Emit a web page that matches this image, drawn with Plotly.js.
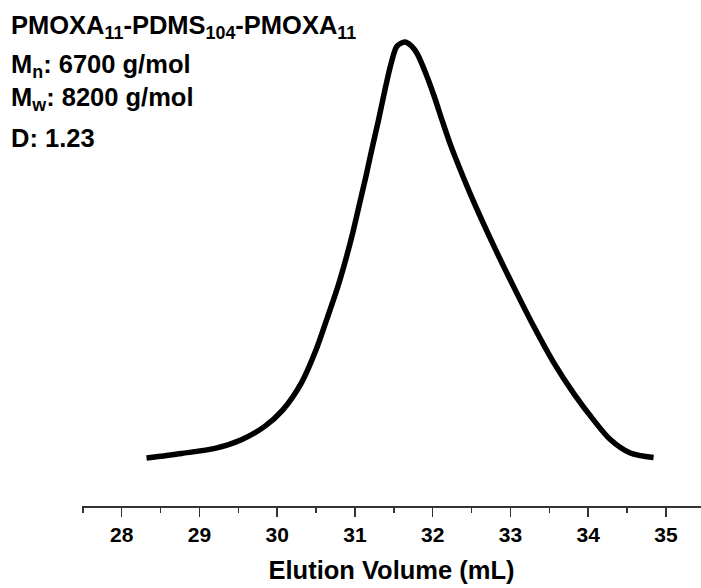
<!DOCTYPE html>
<html>
<head>
<meta charset="utf-8">
<script src="https://cdn.plot.ly/plotly-3.0.1.min.js"></script>
<style>html,body{margin:0;padding:0;background:#fff;}#chart{width:701px;height:588px;}</style>
</head>
<body>
<div id="chart"></div>
<script>
// Elution volume (mL) and normalized detector response
const elutionVolume = [28.32, 28.77, 29.2, 29.54, 29.84, 30.07, 30.31, 30.50, 30.65, 30.78, 30.88, 30.97, 31.06, 31.14, 31.21, 31.30, 31.38, 31.46, 31.54, 31.64, 31.73, 31.80, 31.91, 32.02, 32.12, 32.23, 32.40, 32.55, 32.79, 33.04, 33.30, 33.56, 33.81, 34.07, 34.28, 34.54, 34.84];
const response = [0, 0.011, 0.023, 0.044, 0.076, 0.115, 0.18, 0.26, 0.34, 0.412, 0.476, 0.54, 0.612, 0.676, 0.736, 0.81, 0.88, 0.945, 0.99, 1.0, 0.99, 0.972, 0.925, 0.869, 0.812, 0.752, 0.672, 0.606, 0.508, 0.412, 0.316, 0.228, 0.156, 0.091, 0.045, 0.012, 0.001];
const tickValues = [28, 29, 30, 31, 32, 33, 34, 35];
const infoLines = [
  "PMOXA<sub>11</sub>-PDMS<sub>104</sub>-PMOXA<sub>11</sub>",
  "M<sub>n</sub>: 6700 g/mol",
  "M<sub>w</sub>: 8200 g/mol",
  "D: 1.23"
];
const xTitle = "Elution Volume (mL)";

const W = 701, H = 588;
const mL = 82, mR = 0, mT = 20, mB = 82;
const plotW = W - mL - mR, plotH = H - mT - mB;
const lineCenters = [27, 65.5, 99.5, 137.5];

const FONT = "Liberation Sans, Arial, sans-serif";

const annotations = infoLines.map((t, i) => ({
  text: t,
  xref: 'paper', yref: 'paper',
  x: (9 - mL) / plotW,
  y: (H - mB - lineCenters[i]) / plotH,
  xanchor: 'left', yanchor: 'middle',
  showarrow: false,
  font: {family: FONT, size: 25.5, color: '#000', weight: 'bold'}
}));

const trace = {
  x: elutionVolume, y: response,
  type: 'scatter', mode: 'lines',
  line: {color: '#000', width: 5.5, shape: 'spline', smoothing: 0.8},
  hoverinfo: 'none'
};

const layout = {
  width: W, height: H,
  margin: {l: mL, r: mR, t: mT, b: mB, pad: 0},
  paper_bgcolor: '#fff', plot_bgcolor: '#fff',
  showlegend: false,
  xaxis: {
    range: [27.49, 35.45],
    tickmode: 'array', tickvals: tickValues, ticktext: tickValues.map(String),
    ticks: 'outside', ticklen: 9, tickwidth: 1.5, tickcolor: '#333',
    showline: true, linecolor: '#333', linewidth: 1.5,
    showgrid: false, zeroline: false,
    tickfont: {family: FONT, size: 21, color: '#000', weight: 'bold'},
    minor: {dtick: 0.5, tick0: 27.5, ticks: 'outside', ticklen: 5, tickwidth: 1.5, tickcolor: '#333', showgrid: false},
    title: {text: xTitle, font: {family: FONT, size: 25.5, color: '#000', weight: 'bold'}, standoff: 16}
  },
  yaxis: {
    range: [-0.1154, 1.0529],
    visible: false, showgrid: false, zeroline: false
  },
  annotations: annotations
};

Plotly.newPlot('chart', [trace], layout, {displayModeBar: false, staticPlot: true});
</script>
</body>
</html>
